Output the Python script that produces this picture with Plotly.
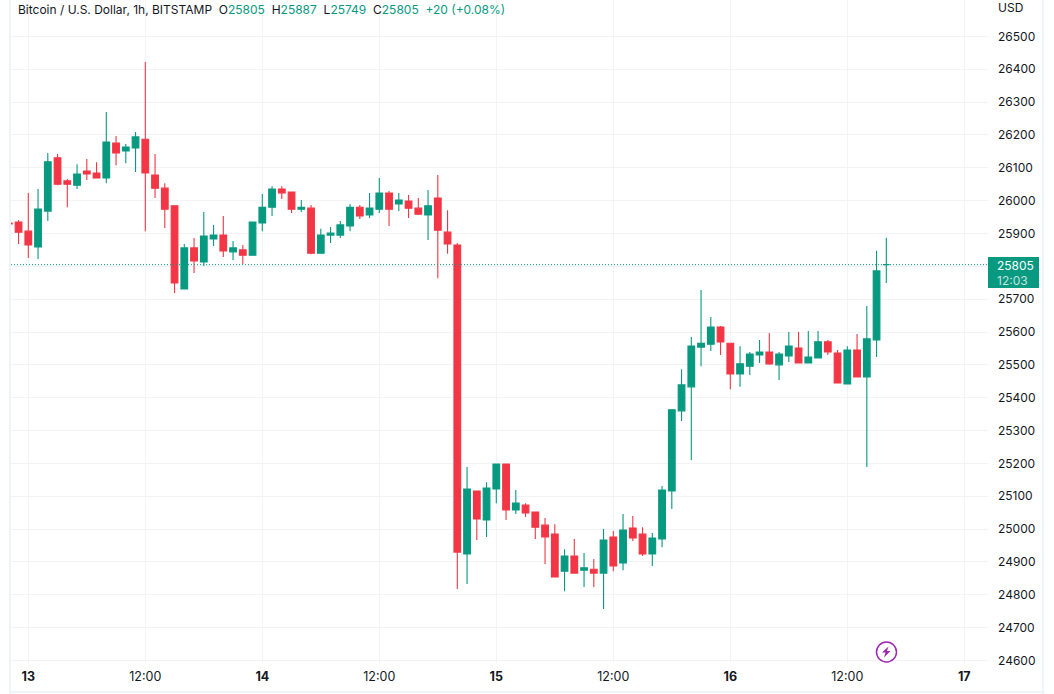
import plotly.graph_objects as go

hours = list(range(-2, 89))
opens = [25932,25935,25907,25859,25968,26130,26060,26047,26090,26084,26069,26175,26151,26160,26187,26078,26038,25984,25731,25856,25813,25883,25895,25844,25850,25834,25932,25980,26035,26026,25974,25977,25840,25895,25895,25923,25980,25956,25974,26023,25990,25999,25977,25956,26008,25904,25865,24924,25116,25028,25122,25198,25058,25073,25052,25012,24985,24872,24918,24875,24878,24866,24976,24897,25003,24985,24924,24970,25116,25360,25433,25554,25563,25615,25566,25472,25496,25530,25539,25500,25527,25551,25506,25521,25570,25536,25442,25545,25463,25576,25805]
highs = [25933,25941,26023,26035,26145,26142,26066,26111,26127,26117,26270,26197,26172,26209,26422,26142,26053,25985,25868,25886,25965,25926,25953,25877,25865,25936,26020,26044,26044,26027,26002,25987,25914,25920,25938,25990,25987,26023,26069,26029,26023,26017,26008,26032,26078,25971,25871,25189,25117,25143,25199,25199,25119,25079,25053,25034,25015,24939,24970,24927,24909,25000,24994,25046,25040,25006,24988,25131,25364,25487,25585,25728,25646,25618,25567,25557,25539,25576,25597,25539,25600,25600,25603,25603,25576,25545,25557,25594,25679,25847,25887]
lows = [25928,25868,25825,25822,25938,26047,25980,26035,26063,26068,26053,26108,26114,26087,25907,26008,25917,25719,25730,25780,25801,25862,25828,25819,25807,25833,25907,25953,26005,25962,25965,25837,25838,25871,25886,25907,25944,25947,25962,25923,25968,25947,25956,25880,25764,25838,24818,24833,24967,24976,25079,25028,25046,25037,24970,24894,24853,24811,24865,24824,24824,24757,24872,24875,24964,24918,24888,24945,25061,25329,25210,25496,25542,25530,25426,25433,25469,25506,25500,25454,25509,25505,25505,25520,25530,25444,25441,25462,25189,25524,25749]
closes = [25929,25904,25865,25974,26118,26050,26050,26081,26081,26069,26178,26145,26163,26194,26084,26038,25974,25749,25856,25816,25892,25895,25847,25856,25834,25935,25980,26035,26023,25974,25980,25840,25895,25901,25926,25980,25953,25977,26023,25974,26002,25977,25959,25984,25910,25868,24930,25122,25031,25125,25198,25058,25079,25049,25006,24976,24854,24918,24866,24882,24866,24967,24888,24997,24973,24924,24973,25119,25363,25439,25557,25566,25615,25570,25472,25503,25533,25539,25503,25533,25557,25506,25524,25570,25539,25445,25545,25463,25579,25786,25805]

x_tick_hours = [0, 12, 24, 36, 48, 60, 72, 84, 96]
x_tick_labels = ["<b>13</b>", "12:00", "<b>14</b>", "12:00", "<b>15</b>", "12:00", "<b>16</b>", "12:00", "<b>17</b>"]
price_ticks = list(range(24600, 26600, 100))
price_labels = ["" if p == 25800 else str(p) for p in price_ticks]
last_price = 25805

GREEN = "#089981"
RED = "#f23645"
GRID = "#f2f3f6"
BORDER = "#f0f3fa"
TEXT = "#131722"
FONT = "Inter"
PURPLE = "#9c27b0"

W, H = 1054, 694
L, R, T, B = 11, 988, 0, 663


def px(x):
    return (x - L) / (R - L)


def py(y):
    return 1 - (y - T) / (B - T)


fig = go.Figure(go.Candlestick(
    x=hours, open=opens, high=highs, low=lows, close=closes,
    increasing=dict(line=dict(color=GREEN, width=1.1), fillcolor=GREEN),
    decreasing=dict(line=dict(color=RED, width=1.1), fillcolor=RED),
    whiskerwidth=0, hoverinfo="skip",
))

shapes = [
    dict(type="line", xref="paper", yref="y", x0=0, x1=1, y0=last_price, y1=last_price,
         line=dict(color=GREEN, width=1, dash="1px,2px"), layer="above"),
    dict(type="rect", xref="paper", yref="paper", x0=px(988), x1=px(1039), y0=py(288), y1=py(257),
         fillcolor=GREEN, line=dict(width=0), layer="above"),
    dict(type="rect", xref="paper", yref="paper", x0=px(9), x1=px(11), y0=py(694), y1=py(0),
         fillcolor=BORDER, line=dict(width=0), layer="below"),
    dict(type="rect", xref="paper", yref="paper", x0=px(1042), x1=px(1044), y0=py(694), y1=py(0),
         fillcolor=BORDER, line=dict(width=0), layer="below"),
    dict(type="rect", xref="paper", yref="paper", x0=px(9), x1=px(1044), y0=py(693), y1=py(691),
         fillcolor=BORDER, line=dict(width=0), layer="below"),
    dict(type="circle", xref="paper", yref="paper", x0=px(876.5), x1=px(896.5), y0=py(662), y1=py(642),
         line=dict(color=PURPLE, width=1.5), fillcolor="white", layer="above"),
    dict(type="path", xref="paper", yref="paper", layer="above", fillcolor=PURPLE, line=dict(width=0),
         path="M {} {} L {} {} L {} {} L {} {} L {} {} L {} {} Z".format(
             px(888.5), py(646.5), px(882), py(652.5), px(885.5), py(652.5),
             px(884), py(657.5), px(890.5), py(651), px(887), py(651))),
]

annotations = [
    dict(xref="paper", yref="paper", x=px(16), y=py(10), xanchor="left", yanchor="middle", showarrow=False,
         align="left", font=dict(family=FONT, size=12, color=TEXT),
         text=("Bitcoin / U.S. Dollar, 1h, BITSTAMP&nbsp;&nbsp;"
               f"O<span style='color:{GREEN}'>25805</span>&nbsp;&nbsp;"
               f"H<span style='color:{GREEN}'>25887</span>&nbsp;&nbsp;"
               f"L<span style='color:{GREEN}'>25749</span>&nbsp;&nbsp;"
               f"C<span style='color:{GREEN}'>25805</span>&nbsp;&nbsp;"
               f"<span style='color:{GREEN}'>+20 (+0.08%)</span>")),
    dict(xref="paper", yref="paper", x=px(996), y=py(8), xanchor="left", yanchor="middle", showarrow=False,
         font=dict(family=FONT, size=12, color=TEXT), text="USD"),
    dict(xref="paper", yref="paper", x=px(995), y=py(265), xanchor="left", yanchor="middle", showarrow=False,
         font=dict(family=FONT, size=12, color="white"), text="25805"),
    dict(xref="paper", yref="paper", x=px(995), y=py(280), xanchor="left", yanchor="middle", showarrow=False,
         font=dict(family=FONT, size=12, color="rgba(255,255,255,0.75)"), text="12:03"),
]

fig.update_layout(
    width=W, height=H, autosize=False,
    margin=dict(l=L, r=W - R, t=T, b=H - B, pad=0),
    paper_bgcolor="white", plot_bgcolor="white",
    showlegend=False, boxgap=0.02,
    shapes=shapes, annotations=annotations,
    font=dict(family=FONT, size=12, color=TEXT),
    xaxis=dict(range=[-1.774, 98.43], tickmode="array", tickvals=x_tick_hours, ticktext=x_tick_labels,
               showgrid=True, gridcolor=GRID, gridwidth=1, zeroline=False, showline=False, ticks="",
               rangeslider=dict(visible=False), tickfont=dict(family=FONT, size=12.5, color=TEXT),
               ticklabelstandoff=4),
    yaxis=dict(range=[24592.4, 26610.7], side="right", tickmode="array", tickvals=price_ticks, ticktext=price_labels,
               showgrid=True, gridcolor=GRID, gridwidth=1, zeroline=False, showline=False, ticks="",
               tickfont=dict(family=FONT, size=12, color=TEXT), ticklabelstandoff=9),
)

fig.write_html("out.html", config=dict(displayModeBar=False),
               post_script="document.body.style.margin='0';document.documentElement.style.overflow='hidden';")
